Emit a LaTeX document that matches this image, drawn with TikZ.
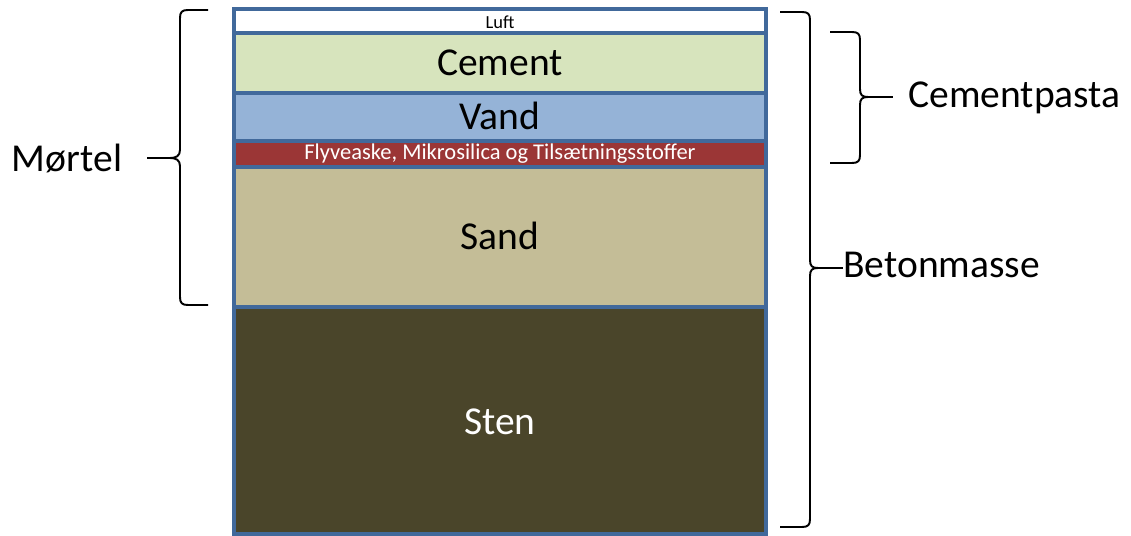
\documentclass[tikz,border=0pt]{standalone}
\usepackage{fontspec}
\setmainfont{Carlito}
\usetikzlibrary{positioning}

\definecolor{edgeblue}{HTML}{41699B}
\definecolor{cementc}{HTML}{D7E4BD}
\definecolor{vandc}{HTML}{95B3D7}
\definecolor{flyc}{HTML}{9B3636}
\definecolor{sandc}{HTML}{C4BD97}
\definecolor{stenc}{HTML}{4A452A}

\tikzset{
  layer/.style={draw=edgeblue, line width=2.1pt},
  bigtxt/.style={font=\fontsize{22.5}{26}\selectfont, inner sep=0pt, anchor=base},
  brace/.style={line width=1.1pt, line join=round}
}

\begin{document}
\begin{tikzpicture}[x=0.02cm,y=-0.02cm]
\useasboundingbox (0,0) rectangle (1131,536);

%the layers, top to bottom
\draw[layer,fill=white] (234,9) rectangle (766,33);
\draw[layer,fill=cementc] (234,33) rectangle (766,93);
\draw[layer,fill=vandc] (234,93) rectangle (766,141);
\draw[layer,fill=flyc] (234,141) rectangle (766,167);
\draw[layer,fill=sandc] (234,167) rectangle (766,307);
\draw[layer,fill=stenc] (234,307) rectangle (766,534);

\node[inner sep=0pt, anchor=base, font=\fontsize{10.5}{12}\selectfont] (luft) at (500,29) {Luft};
\node[bigtxt] (cement) at (500,76) {Cement};
\node[bigtxt] (vand) at (500,130) {Vand};
\node[inner sep=0pt, anchor=base, text=white, font=\fontsize{12.8}{14}\selectfont] (fly) at (500,160) {Flyveaske, Mikrosilica og Tilsætningsstoffer};
\node[bigtxt] (sand) at (500,250) {Sand};
\node[bigtxt, text=white] (sten) at (500,434) {Sten};

%left brace
\draw[brace] (208,10) -- (188,10) .. controls (182,10) and (180,12) .. (180,18) -- (180,150)
  .. controls (180,156) and (176,158) .. (170,158) .. controls (176,158) and (180,160) .. (180,166)
  -- (180,297) .. controls (180,303) and (182,305) .. (188,305) -- (208,305);
\coordinate (tipM) at (170,158);
\node[bigtxt] (mortel) at (67,172) {Mørtel};
\draw[brace] (tipM) -- ([xshift=0.5cm]mortel.base east |- tipM);

%right braces
\draw[brace] (780,12) -- (802,12) .. controls (808,12) and (810,14) .. (810,20) -- (810,260)
  .. controls (810,266) and (812,268) .. (818,268) .. controls (812,268) and (810,270) .. (810,276)
  -- (810,519) .. controls (810,525) and (808,527) .. (802,527) -- (780,527);
\coordinate (tipB) at (818,268);
\node[bigtxt, anchor=base west] (beton) at (843,278) {Betonmasse};
\draw[brace] (tipB) -- (beton.base west |- tipB);

\draw[brace] (830,32) -- (852,32) .. controls (858,32) and (860,34) .. (860,40) -- (860,89)
  .. controls (860,95) and (862,97) .. (868,97) .. controls (862,97) and (860,99) .. (860,105)
  -- (860,155) .. controls (860,161) and (858,163) .. (852,163) -- (830,163);
\coordinate (tipC) at (868,97);
\node[bigtxt, anchor=base west] (pasta) at (908,108) {Cementpasta};
\draw[brace] (tipC) -- ([xshift=-0.3cm]pasta.base west |- tipC);
\end{tikzpicture}
\end{document}
